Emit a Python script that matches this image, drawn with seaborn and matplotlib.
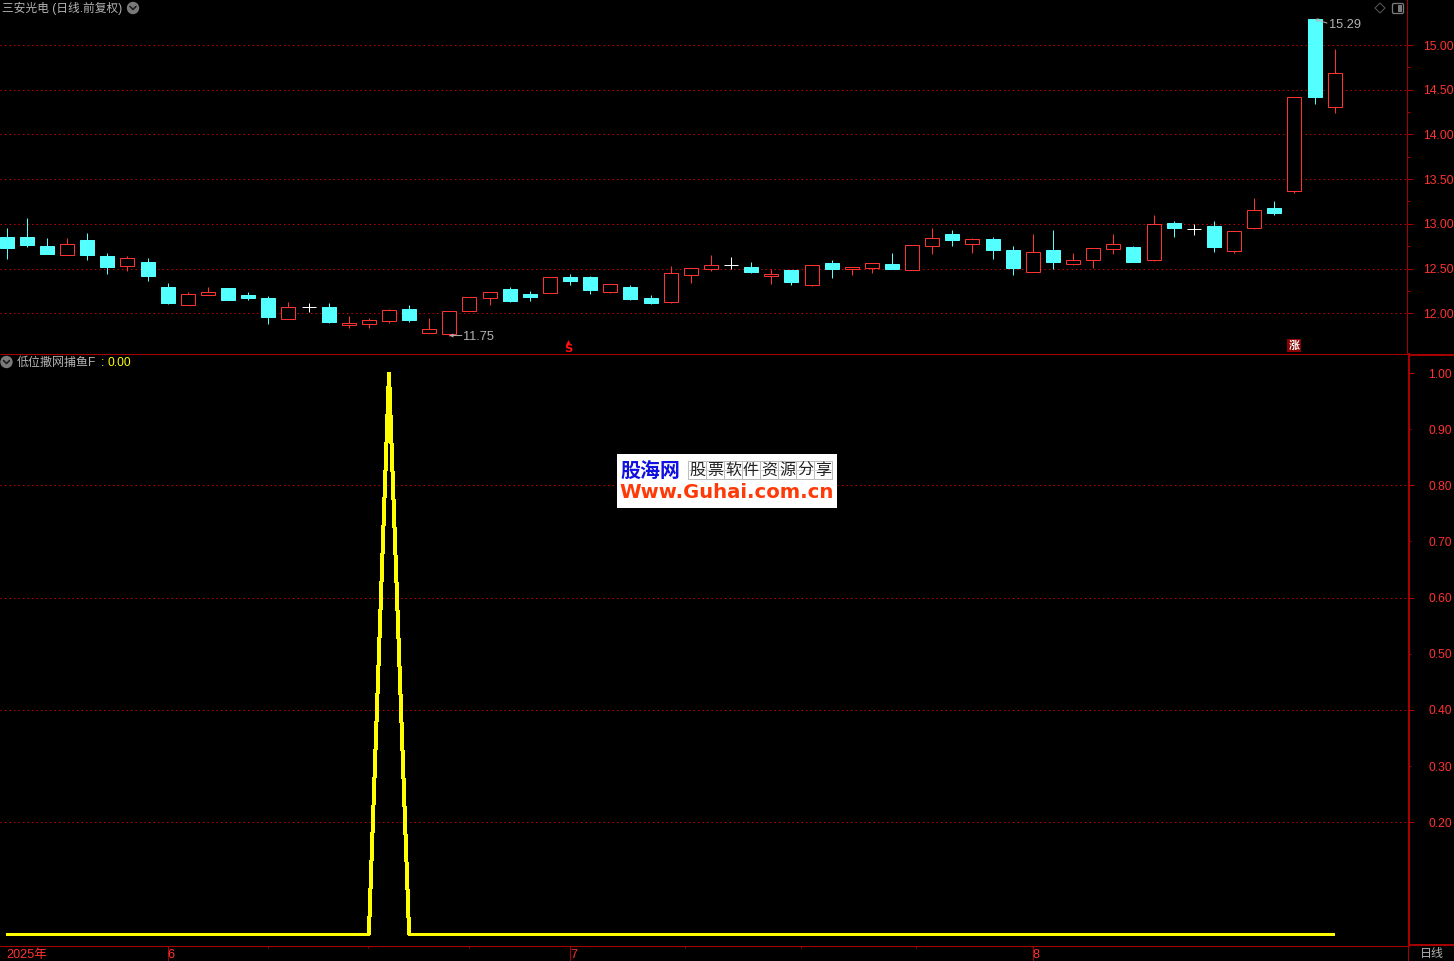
import matplotlib
matplotlib.use("Agg")
import matplotlib.pyplot as plt
from matplotlib.patches import Rectangle, Circle, Polygon, FancyBboxPatch
from matplotlib.ticker import FixedLocator, FixedFormatter
import numpy as np
import pandas as pd
import seaborn as sns

# ---- data ----
opens = [12.85,12.85,12.75,12.65,12.82,12.64,12.53,12.57,12.29,12.09,12.20,12.28,12.20,12.17,11.93,12.07,12.07,
         11.87,11.88,11.91,12.05,11.78,11.77,12.02,12.17,12.27,12.21,12.23,12.40,12.40,12.24,12.29,12.17,12.12,
         12.43,12.49,12.54,12.52,12.42,12.48,12.32,12.56,12.49,12.51,12.55,12.48,12.75,12.89,12.77,12.83,12.71,
         12.46,12.71,12.55,12.60,12.72,12.74,12.60,13.01,12.94,12.98,12.70,12.95,13.18,13.37,15.29,14.31]
closes = [12.73,12.76,12.66,12.77,12.65,12.52,12.62,12.42,12.11,12.21,12.24,12.15,12.17,11.96,12.07,12.07,11.90,
          11.89,11.92,12.04,11.92,11.82,12.02,12.18,12.24,12.14,12.18,12.40,12.36,12.26,12.33,12.16,12.11,12.45,
          12.51,12.54,12.54,12.46,12.44,12.35,12.54,12.49,12.52,12.56,12.49,12.76,12.84,12.82,12.83,12.71,12.51,
          12.68,12.57,12.60,12.73,12.77,12.57,13.00,12.95,12.94,12.74,12.92,13.15,13.12,14.42,14.42,14.69]
highs = [12.95,13.06,12.84,12.84,12.90,12.67,12.64,12.62,12.34,12.24,12.29,12.28,12.24,12.19,12.12,12.11,12.11,
         11.97,11.95,12.05,12.09,11.95,12.02,12.18,12.24,12.29,12.25,12.40,12.44,12.42,12.33,12.32,12.20,12.53,
         12.51,12.65,12.63,12.57,12.49,12.48,12.54,12.60,12.52,12.56,12.67,12.76,12.95,12.93,12.84,12.85,12.75,
         12.89,12.93,12.67,12.73,12.89,12.75,13.10,13.03,13.00,13.03,12.92,13.29,13.25,14.42,15.29,14.96]
lows = [12.61,12.74,12.66,12.65,12.60,12.44,12.47,12.36,12.10,12.09,12.20,12.15,12.15,11.88,11.93,12.01,11.89,
        11.83,11.83,11.89,11.90,11.78,11.75,12.02,12.09,12.12,12.14,12.23,12.32,12.21,12.23,12.15,12.10,12.11,
        12.34,12.47,12.49,12.45,12.33,12.32,12.30,12.39,12.43,12.45,12.49,12.48,12.66,12.75,12.67,12.61,12.43,
        12.46,12.49,12.54,12.51,12.66,12.57,12.58,12.85,12.87,12.68,12.67,12.94,13.10,13.34,14.34,14.24]
indicator = [0]*19 + [1] + [0]*47
price_ticks = [12.0, 12.5, 13.0, 13.5, 14.0, 14.5, 15.0]
price_minor = [12.25, 12.75, 13.25, 13.75, 14.25, 14.75]
ind_major = [0.2, 0.4, 0.6, 0.8]
ind_minor = [0.3, 0.5, 0.7, 0.9, 1.0]
month_pos = [0, 8, 28, 51]
month_labels = ["2025年", "6", "7", "8"]
month_minor = [12.97, 17.94, 22.96, 33.7, 39.46, 45.2]
title_text = "三安光电 (日线.前复权)"
ind_name = "低位撒网捕鱼F"
ind_value = "0.00"

BG = "#000000"
AX = "#a80000"
DOT = "#c80000"
RED = "#ff3232"
CYAN = "#54ffff"
GREY = "#b4b4b4"
YEL = "#ffff00"
W, H = 1454, 961
PX = 72 / 100

sns.set_theme(style="dark", rc={"figure.facecolor": BG, "axes.facecolor": BG, "savefig.facecolor": BG})
plt.rcParams["font.family"] = ["Liberation Sans", "Noto Sans CJK SC", "DejaVu Sans"]
plt.rcParams["axes.unicode_minus"] = False
FS = 12 * PX
DOTS = (0, (1.4, 3.1))

df = pd.DataFrame({"i": np.arange(len(opens)), "o": opens, "c": closes, "h": highs, "l": lows, "ind": indicator})
df["kind"] = np.where(df.c > df.o, "up", np.where(df.c < df.o, "down", "flat"))

fig = plt.figure(figsize=(W / 100, H / 100), dpi=100)

def axes_px(x0, y0, x1, y1, **kw):
    return fig.add_axes([x0 / W, 1 - y1 / H, (x1 - x0) / W, (y1 - y0) / H], **kw)

STEP = 20.12
X0 = 6.7
xl = lambda px: (px - X0) / STEP

# ---- price panel ----
ax = axes_px(0, 0, 1407.4, 353.5)
ax.set_xlim(xl(0), xl(1407.4))
ax.set_ylim(15 - (353.5 - 45) / 89.4, 15 + 45 / 89.4)
ax.set_axisbelow(True)

colors = {"up": RED, "down": CYAN, "flat": "#ffffff"}
for kind, g in df.groupby("kind"):
    ax.vlines(g.i, g.l, g.h, color=colors[kind], lw=PX, zorder=2, snap=True)
w = 14 / STEP
up = df[df.kind == "up"]
ax.bar(up.i, up.c - up.o, bottom=up.o, width=w, facecolor=BG, edgecolor=RED, lw=PX, zorder=3)
down = df[df.kind == "down"]
ax.bar(down.i, down.c - down.o, bottom=down.o, width=w, facecolor=CYAN, edgecolor=CYAN, lw=PX, zorder=3)
flat = df[df.kind == "flat"]
ax.hlines(flat.o, flat.i - w / 2, flat.i + w / 2, color="#ffffff", lw=PX, zorder=3, snap=True)

ax.yaxis.tick_right()
ax.yaxis.set_major_locator(FixedLocator(price_ticks))
ax.yaxis.set_major_formatter(FixedFormatter([f"{v:.2f}" for v in price_ticks]))
ax.yaxis.set_minor_locator(FixedLocator(price_minor))
ax.tick_params(axis="y", which="major", length=6 * PX, width=PX, color=AX, pad=9.3 * PX, labelcolor=RED, labelsize=12.2 * PX, right=True)
ax.tick_params(axis="y", which="minor", length=3 * PX, width=PX, color=AX, right=True)
ax.set_xticks([])
ax.yaxis.grid(True, which="major", color=DOT, lw=PX, linestyle=DOTS)
for s in ("left", "top", "bottom"):
    ax.spines[s].set_visible(False)
ax.spines["right"].set_color(AX)
ax.spines["right"].set_linewidth(PX)

tk = dict(fontsize=12.7 * PX, color=GREY, va="center", ha="left", textcoords="offset points", xycoords="data")
arrow = dict(arrowstyle="->", color=GREY, lw=PX, shrinkA=0, shrinkB=0, mutation_scale=5)
imin, imax = int(df.l.idxmin()), int(df.h.idxmax())
ax.annotate(f"{df.l[imin]:.2f}", xy=(imin, df.l[imin]), xytext=(14 * PX, -1.5 * PX), **tk)
ax.annotate("", xy=(imin, df.l[imin]), xytext=(12.5 * PX, 0), xycoords="data", textcoords="offset points", arrowprops=arrow)
ax.annotate(f"{df.h[imax]:.2f}", xy=(imax, df.h[imax]), xytext=(14 * PX, -6 * PX), **tk)
ax.annotate("", xy=(imax, df.h[imax]), xytext=(12.5 * PX, -4 * PX), xycoords="data", textcoords="offset points", arrowprops=arrow)

# signal markers along the panel floor
trans = ax.get_xaxis_transform()
ax.annotate("S", xy=(28, 0), xycoords=trans, xytext=(-2 * PX, 4.5 * PX), textcoords="offset points",
            ha="center", va="center", color="#ff1010", fontsize=11.5 * PX, fontweight="bold", family="DejaVu Sans")
ax.plot([27.9], [11.5 / 353.5], transform=trans, marker="^", ms=5 * PX, color="#ff1010", mew=0, clip_on=False)
ax.annotate("涨", xy=(64, 0), xycoords=trans, xytext=(-0.5 * PX, 8 * PX), textcoords="offset points", ha="center", va="center",
            color="#ffffff", fontsize=11 * PX, fontweight="bold", family="Noto Sans CJK SC",
            bbox=dict(boxstyle="square,pad=0.12", fc="#8b0000", ec="none"))

# ---- indicator panel ----
ax2 = axes_px(0, 353.5, 1408.5, 945.5)
ax2.set_xlim(xl(0), xl(1408.5))
scale = 561.5
ax2.set_ylim(-(945.5 - 934.5) / scale, 1 + (373 - 353.5) / scale)
ax2.set_axisbelow(True)
sns.lineplot(data=df, x="i", y="ind", ax=ax2, color=YEL, lw=3 * PX, legend=False, estimator=None, sort=False,
             zorder=3, antialiased=False, solid_joinstyle="bevel", solid_capstyle="butt")
ax2.set_xlabel("")
ax2.set_ylabel("")

ax2.yaxis.tick_right()
ax2.yaxis.set_major_locator(FixedLocator(ind_major))
ax2.yaxis.set_major_formatter(FixedFormatter([f"{v:.2f}" for v in ind_major]))
ax2.yaxis.set_minor_locator(FixedLocator(ind_minor))
ax2.yaxis.set_minor_formatter(FixedFormatter([f"{v:.2f}" for v in ind_minor]))
ax2.tick_params(axis="y", which="major", length=5 * PX, width=PX, color=AX, pad=15 * PX, labelcolor=RED, labelsize=FS, right=True)
ax2.tick_params(axis="y", which="minor", length=2 * PX, width=PX, color=AX, pad=18 * PX, labelcolor=RED, labelsize=FS, right=True)
ax2.yaxis.get_minor_ticks()[-1].tick2line.set_markersize(5 * PX)
ax2.yaxis.grid(True, which="major", color=DOT, lw=PX, linestyle=DOTS)

ax2.xaxis.set_major_locator(FixedLocator(month_pos[1:]))
ax2.xaxis.set_major_formatter(FixedFormatter([""] * 3))
ax2.xaxis.set_minor_locator(FixedLocator(month_minor))
ax2.tick_params(axis="x", which="major", length=16 * PX, width=PX, color=AX, bottom=True)
ax2.tick_params(axis="x", which="minor", length=2 * PX, width=PX, color=AX, bottom=True)
for p, lab in zip(month_pos, month_labels):
    ax2.annotate(lab, xy=(p, 0), xycoords=ax2.get_xaxis_transform(), xytext=(0, -9.5 * PX),
                 textcoords="offset points", ha="left", va="center", color=RED, fontsize=12.6 * PX, annotation_clip=False)
ax2.spines["left"].set_visible(False)
ax2.spines["top"].set_visible(False)
ax2.spines["bottom"].set_color(AX)
ax2.spines["bottom"].set_linewidth(PX)
ax2.spines["right"].set_color(AX)
ax2.spines["right"].set_linewidth(2 * PX)

# ---- chrome overlay in pixel coordinates ----
ov = fig.add_axes([0, 0, 1, 1], zorder=10)
ov.set_xlim(0, W)
ov.set_ylim(H, 0)
ov.axis("off")
ov.patch.set_visible(False)

ov.plot([0, 1408], [353.5, 353.5], color=AX, lw=PX, solid_capstyle="butt")
ov.plot([1408, W], [354.5, 354.5], color=AX, lw=2 * PX, solid_capstyle="butt")
ov.plot([1408, W], [944.5, 944.5], color=AX, lw=2 * PX, solid_capstyle="butt")
ov.plot([1407.5, 1407.5], [945, H], color=AX, lw=PX)

def chevron(cx, cy):
    ov.add_patch(Circle((cx, cy), 6.2, fc="#7a7a7a", ec="none"))
    ov.plot([cx - 3, cx, cx + 3], [cy - 1.5, cy + 1.5, cy - 1.5], color="#1c1c1c", lw=1.6 * PX)

ov.text(2, 8, title_text, color=GREY, fontsize=FS * 0.975, va="center", ha="left")
chevron(133, 8)
ov.add_patch(Polygon([(1380, 3), (1385, 8), (1380, 13), (1375, 8)], closed=True, fc="none", ec="#5a5a5a", lw=PX))
ov.add_patch(FancyBboxPatch((1393, 4), 10, 9, boxstyle="round,pad=0.5,rounding_size=1.5", fc="none", ec="#7a7a7a", lw=1.3 * PX))
ov.add_patch(Rectangle((1398, 5), 4, 7, fc="#7a7a7a", ec="none"))

chevron(6.5, 362)
ov.text(17, 363, ind_name, color=GREY, fontsize=FS, va="center", ha="left")
ov.text(100.5, 363, ":", color=YEL, fontsize=FS, va="center", ha="left")
ov.text(107, 363, ind_value, color=YEL, fontsize=FS, va="center", ha="left")
ov.text(1420, 954, "日线", color=GREY, fontsize=FS, va="center", ha="left")

# watermark
ov.add_patch(Rectangle((617, 454), 220, 54, fc="#ffffff", ec="none"))
ov.text(650.5, 470, "股海网", color="#1010e0", fontsize=20 * PX, fontweight="bold", ha="center", va="center",
        family="Noto Sans CJK SC")
for k, ch in enumerate("股票软件资源分享"):
    cx = 697 + k * 18
    ov.add_patch(Rectangle((cx - 9, 461), 18, 18, fc="#ffffff", ec="#bdbdbd", lw=PX))
    ov.plot([cx - 9, cx + 9], [470, 470], color="#d0d0d0", lw=PX)
    ov.text(cx, 470, ch, color="#222222", fontsize=16 * PX, ha="center", va="center", family="Noto Sans CJK SC",
            fontweight="medium")
ov.text(727, 492, "Www.Guhai.com.cn", color="#ff3a08", fontsize=19.7 * PX, fontweight="bold", ha="center", va="center",
        family="DejaVu Sans")

fig.savefig("out.png", dpi=100, facecolor=BG)
